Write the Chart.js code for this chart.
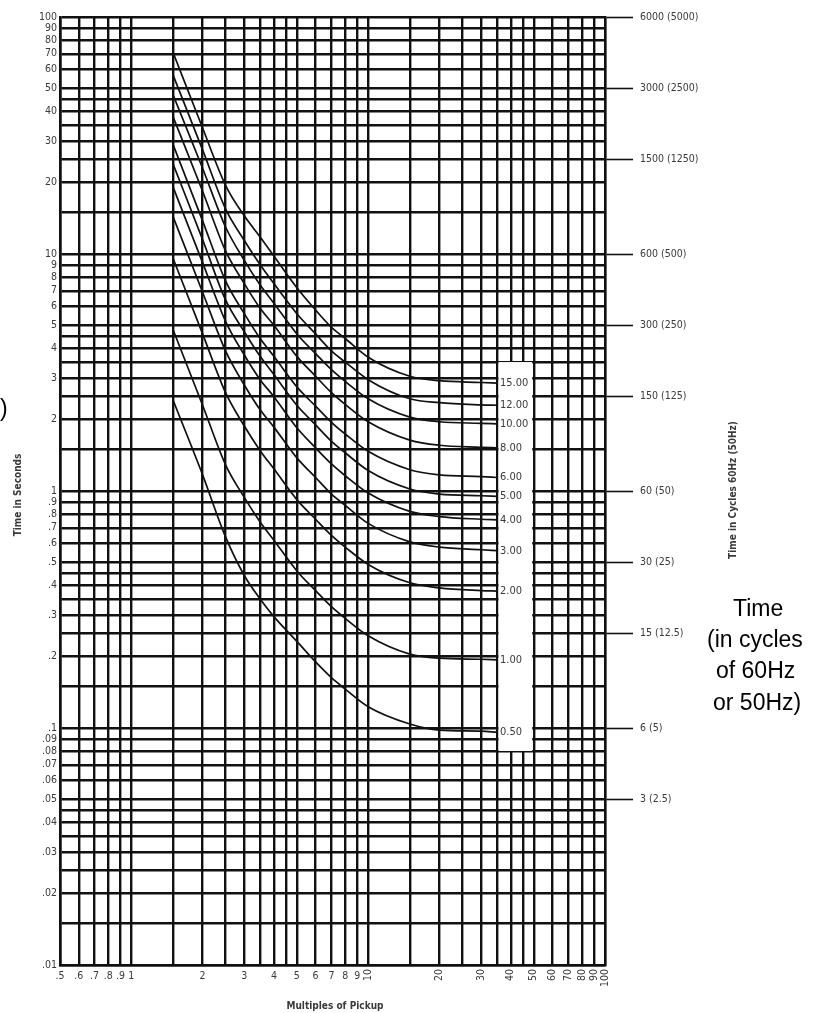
<!DOCTYPE html>
<html>
<head>
<meta charset="utf-8">
<title>Time-current curves</title>
<script src="https://cdn.jsdelivr.net/npm/chart.js@4"></script>
<style>
    body { margin: 0; background: #fff; }
    #wrap { width: 832px; height: 1013px; position: relative; }
</style>
</head>
<body>
<div id="wrap"><canvas id="curveChart"></canvas></div>
<script>
// multiples of pickup where the curves were read
const multiples = [1.5, 2, 2.5, 3, 3.5, 4, 5, 6, 7, 8, 10, 15, 20, 30, 35];

// time in seconds, one list per time dial setting
const td15 = [71, 34, 19.5, 14.5, 11.8, 9.8, 7.2, 5.8, 4.9, 4.4, 3.67, 3.05, 2.92, 2.87, 2.85];
const td12 = [57, 27.5, 15.5, 11.4, 9.0, 7.5, 5.6, 4.6, 3.9, 3.5, 2.95, 2.45, 2.36, 2.31, 2.3];
const td10 = [47, 23, 13, 9.4, 7.4, 6.2, 4.6, 3.8, 3.25, 2.9, 2.45, 2.05, 1.96, 1.93, 1.92];
const td8 = [38, 18.4, 10.3, 7.5, 5.9, 5.0, 3.7, 3.05, 2.6, 2.32, 1.96, 1.64, 1.56, 1.53, 1.52];
const td6 = [29, 13.8, 7.7, 5.6, 4.4, 3.7, 2.75, 2.28, 1.95, 1.74, 1.47, 1.23, 1.17, 1.15, 1.14];
const td5 = [24, 11.5, 6.4, 4.7, 3.7, 3.1, 2.3, 1.9, 1.62, 1.45, 1.22, 1.02, 0.97, 0.955, 0.95];
const td4 = [19.2, 9.2, 5.2, 3.75, 2.95, 2.5, 1.85, 1.52, 1.3, 1.16, 0.98, 0.82, 0.78, 0.76, 0.755];
const td3 = [14.4, 6.9, 3.9, 2.8, 2.2, 1.86, 1.38, 1.14, 0.97, 0.87, 0.73, 0.61, 0.58, 0.565, 0.56];
const td2 = [9.6, 4.6, 2.6, 1.88, 1.48, 1.24, 0.92, 0.76, 0.65, 0.58, 0.49, 0.41, 0.39, 0.38, 0.378];
const td1 = [4.8, 2.3, 1.29, 0.94, 0.74, 0.62, 0.46, 0.38, 0.325, 0.29, 0.245, 0.205, 0.197, 0.195, 0.194];
const td05 = [2.42, 1.17, 0.64, 0.44, 0.35, 0.295, 0.232, 0.19, 0.163, 0.146, 0.123, 0.104, 0.098, 0.097, 0.096];

const dialCurves = [td15, td12, td10, td8, td6, td5, td4, td3, td2, td1, td05];
const dialLabels = ['15.00', '12.00', '10.00', '8.00', '6.00', '5.00', '4.00', '3.00', '2.00', '1.00', '0.50'];

// grid steps inside each decade
const gridSteps = [1, 1.5, 2, 2.5, 3, 3.5, 4, 4.5, 5, 6, 7, 8, 9];
const labelSteps = [1, 2, 3, 4, 5, 6, 7, 8, 9];

// x tick labels (multiples of pickup)
const xLabelValues = [0.5, 0.6, 0.7, 0.8, 0.9, 1, 2, 3, 4, 5, 6, 7, 8, 9, 10, 20, 30, 40, 50, 60, 70, 80, 90, 100];
const xLabelText = ['.5', '.6', '.7', '.8', '.9', '1', '2', '3', '4', '5', '6', '7', '8', '9', '10', '20', '30', '40', '50', '60', '70', '80', '90', '100'];

// right hand scale: cycles at 60Hz (50Hz)
const cycleSeconds = [100, 50, 25, 10, 5, 2.5, 1, 0.5, 0.25, 0.1, 0.05];
const cycleLabels = ['6000 (5000)', '3000 (2500)', '1500 (1250)', '600 (500)', '300 (250)', '150 (125)',
    '60 (50)', '30 (25)', '15 (12.5)', '6 (5)', '3 (2.5)'];

function clean(v) {
    return parseFloat(v.toPrecision(6));
}

function decadeGrid(from, to) {
    let out = [];
    for (let d = from; d < to; d *= 10) {
        gridSteps.forEach(s => { if (clean(s * d) >= from) out.push(clean(s * d)); });
    }
    out.push(to);
    return out;
}

let xGrid = [0.5, 0.6, 0.7, 0.8, 0.9].concat(decadeGrid(1, 100));
let yGrid = decadeGrid(0.01, 100);
let yText = yGrid.map(v => {
    let lead = v / Math.pow(10, Math.floor(Math.log10(v) + 1e-9));
    if (!labelSteps.includes(clean(lead))) return '';
    return v < 1 ? String(v).replace('0.', '.') : String(v);
});

const textColor = '#3a3a3a';
const smallFont = '"Liberation Sans Narrow", "DejaVu Sans Condensed", "Liberation Sans", sans-serif';

let datasets = dialCurves.map((curve, i) => ({
    label: dialLabels[i],
    data: curve.map((t, j) => ({x: multiples[j], y: t})),
    borderColor: '#111',
    borderWidth: 1.7,
    pointRadius: 0,
    fill: false,
    cubicInterpolationMode: 'monotone'
}));

// white column that holds the dial labels
const boxFrom = 35, boxTo = 50, boxTop = 3.5, boxBottom = 0.08;

const extras = {
    id: 'extras',
    beforeDatasetsDraw(chart) {
        let {ctx, scales: {x, y}} = chart;
        let left = x.getPixelForValue(boxFrom) + 1.5;
        let right = x.getPixelForValue(boxTo) - 1.5;
        let top = y.getPixelForValue(boxTop);
        let bottom = y.getPixelForValue(boxBottom);
        ctx.save();
        ctx.fillStyle = '#fff';
        ctx.fillRect(left, top, right - left, bottom - top);
        ctx.restore();
    },
    afterDraw(chart) {
        let {ctx, scales: {x, y}} = chart;
        ctx.save();
        ctx.fillStyle = textColor;

        // dial labels at the end of each curve
        ctx.font = '11px ' + smallFont;
        ctx.textAlign = 'left';
        ctx.textBaseline = 'middle';
        dialCurves.forEach((curve, i) => {
            ctx.fillText(dialLabels[i], x.getPixelForValue(boxFrom) + 3, y.getPixelForValue(curve[curve.length - 1]));
        });

        // x tick labels, upright below 10 and turned above
        let base = chart.chartArea.bottom + 4;
        ctx.font = '10.5px ' + smallFont;
        xLabelValues.forEach((v, i) => {
            let px = x.getPixelForValue(v);
            if (v < 10) {
                ctx.textAlign = 'center';
                ctx.textBaseline = 'top';
                ctx.fillText(xLabelText[i], px, base + 2);
            } else {
                ctx.save();
                ctx.translate(px, base);
                ctx.rotate(-Math.PI / 2);
                ctx.textAlign = 'right';
                ctx.textBaseline = 'middle';
                ctx.fillText(xLabelText[i], 0, 0);
                ctx.restore();
            }
        });

        // axis titles
        ctx.font = 'bold 10px ' + smallFont;
        ctx.textAlign = 'center';
        ctx.textBaseline = 'middle';
        ctx.fillText('Multiples of Pickup', 335, 1006);

        ctx.save();
        ctx.translate(18, 495);
        ctx.rotate(-Math.PI / 2);
        ctx.fillText('Time in Seconds', 0, 0);
        ctx.restore();

        ctx.save();
        ctx.translate(733, 490);
        ctx.rotate(-Math.PI / 2);
        ctx.fillText('Time in Cycles 60Hz (50Hz)', 0, 0);
        ctx.restore();

        // added note on the right
        ctx.fillStyle = '#000';
        ctx.font = '23px "Liberation Sans", Arial, sans-serif';
        ctx.textAlign = 'left';
        ctx.fillText('Time', 733, 610);
        ctx.fillText('(in cycles', 707, 641);
        ctx.fillText('of 60Hz', 716, 672);
        ctx.fillText('or 50Hz)', 713, 704);
        ctx.fillText(')', 0, 410);
        ctx.restore();
    }
};

let ctx = document.getElementById('curveChart').getContext('2d');
let chart = new Chart(ctx, {
    type: 'line',
    data: { datasets: datasets },
    plugins: [extras],
    options: {
        responsive: true,
        maintainAspectRatio: false,
        animation: false,
        layout: { padding: { top: 17, left: 0, right: 0, bottom: 0 } },
        plugins: {
            legend: { display: false },
            tooltip: { enabled: false }
        },
        scales: {
            x: {
                type: 'logarithmic',
                min: 0.5,
                max: 100,
                afterBuildTicks: scale => { scale.ticks = xGrid.map(v => ({value: v})); },
                afterFit: scale => { scale.height = 48; },
                ticks: { display: false },
                grid: { color: '#111', lineWidth: 2.4, drawTicks: false },
                border: { color: '#111', width: 2.6 }
            },
            y: {
                type: 'logarithmic',
                position: 'left',
                min: 0.01,
                max: 100,
                afterBuildTicks: scale => { scale.ticks = yGrid.map(v => ({value: v})); },
                afterFit: scale => { scale.width = 60; },
                ticks: {
                    autoSkip: false,
                    padding: 3,
                    color: textColor,
                    font: { size: 10.5, family: smallFont },
                    callback: (value, index) => yText[index]
                },
                grid: { color: '#111', lineWidth: 2.4, drawTicks: false },
                border: { color: '#111', width: 2.6 }
            },
            y2: {
                type: 'logarithmic',
                position: 'right',
                min: 0.01,
                max: 100,
                afterBuildTicks: scale => { scale.ticks = cycleSeconds.map(v => ({value: v})); },
                afterFit: scale => { scale.width = 227; },
                ticks: {
                    autoSkip: false,
                    padding: 7,
                    color: textColor,
                    font: { size: 10.5, family: smallFont },
                    callback: (value, index) => cycleLabels[index]
                },
                grid: { drawOnChartArea: false, tickLength: 28, tickColor: '#111', tickWidth: 1.6 },
                border: { color: '#111', width: 2.4 }
            }
        }
    }
});
</script>
</body>
</html>
